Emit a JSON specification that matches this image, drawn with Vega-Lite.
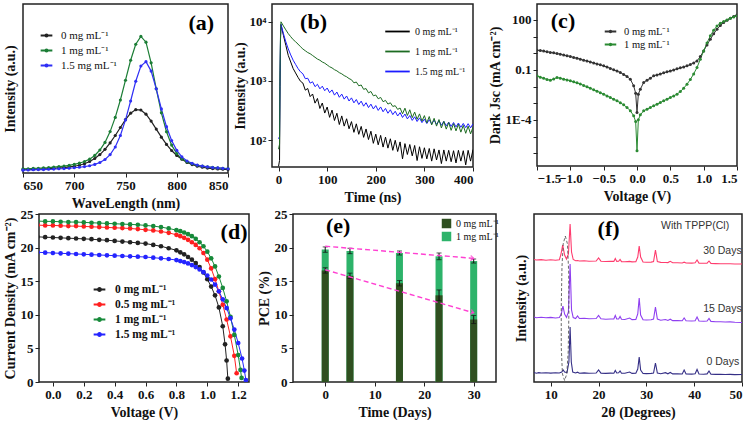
{
"$schema": "https://vega.github.io/schema/vega-lite/v6.json",
"background": "white",
"padding": {"left": 1, "top": 3, "right": 0, "bottom": 0},
"config": {
  "font": "Liberation Serif",
  "view": {"stroke": "#222222", "strokeWidth": 1.5},
  "axis": {"grid": false, "domain": false, "labelOverlap": false, "tickCount": 20, "labelFont": "Liberation Serif", "labelFontWeight": "bold", "labelFontSize": 13, "labelColor": "#111111", "titleFont": "Liberation Serif", "titleFontWeight": "bold", "titleFontSize": 14, "titleColor": "#111111", "tickColor": "#222222", "tickSize": 4, "labelPadding": 2, "titlePadding": 4},
  "legend": {"labelFont": "Liberation Serif", "labelColor": "#111111"}
},
"datasets": {
"a": [
{"s":"0","w":650,"i":0.021},{"s":"0","w":655,"i":0.021},{"s":"0","w":660,"i":0.022},{"s":"0","w":665,"i":0.023},{"s":"0","w":670,"i":0.025},{"s":"0","w":675,"i":0.026},{"s":"0","w":680,"i":0.028},{"s":"0","w":685,"i":0.030},{"s":"0","w":690,"i":0.032},{"s":"0","w":695,"i":0.036},{"s":"0","w":700,"i":0.040},{"s":"0","w":705,"i":0.046},{"s":"0","w":710,"i":0.055},{"s":"0","w":715,"i":0.068},{"s":"0","w":720,"i":0.086},{"s":"0","w":725,"i":0.109},{"s":"0","w":730,"i":0.140},{"s":"0","w":735,"i":0.178},{"s":"0","w":740,"i":0.222},{"s":"0","w":745,"i":0.269},{"s":"0","w":750,"i":0.316},{"s":"0","w":755,"i":0.354},{"s":"0","w":760,"i":0.375},{"s":"0","w":765,"i":0.373},{"s":"0","w":770,"i":0.348},{"s":"0","w":775,"i":0.307},{"s":"0","w":780,"i":0.260},{"s":"0","w":785,"i":0.212},{"s":"0","w":790,"i":0.169},{"s":"0","w":795,"i":0.133},{"s":"0","w":800,"i":0.104},{"s":"0","w":805,"i":0.082},{"s":"0","w":810,"i":0.062},{"s":"0","w":815,"i":0.050},{"s":"0","w":820,"i":0.040},{"s":"0","w":825,"i":0.034},{"s":"0","w":830,"i":0.029},{"s":"0","w":835,"i":0.026},{"s":"0","w":840,"i":0.024},{"s":"0","w":845,"i":0.022},{"s":"0","w":850,"i":0.021},
{"s":"1","w":650,"i":0.024},{"s":"1","w":655,"i":0.025},{"s":"1","w":660,"i":0.027},{"s":"1","w":665,"i":0.028},{"s":"1","w":670,"i":0.030},{"s":"1","w":675,"i":0.032},{"s":"1","w":680,"i":0.035},{"s":"1","w":685,"i":0.038},{"s":"1","w":690,"i":0.041},{"s":"1","w":695,"i":0.045},{"s":"1","w":700,"i":0.051},{"s":"1","w":705,"i":0.058},{"s":"1","w":710,"i":0.068},{"s":"1","w":715,"i":0.082},{"s":"1","w":720,"i":0.104},{"s":"1","w":725,"i":0.136},{"s":"1","w":730,"i":0.181},{"s":"1","w":735,"i":0.245},{"s":"1","w":740,"i":0.329},{"s":"1","w":745,"i":0.432},{"s":"1","w":750,"i":0.549},{"s":"1","w":755,"i":0.667},{"s":"1","w":760,"i":0.762},{"s":"1","w":765,"i":0.808},{"s":"1","w":770,"i":0.774},{"s":"1","w":775,"i":0.652},{"s":"1","w":780,"i":0.498},{"s":"1","w":785,"i":0.356},{"s":"1","w":790,"i":0.244},{"s":"1","w":795,"i":0.165},{"s":"1","w":800,"i":0.115},{"s":"1","w":805,"i":0.084},{"s":"1","w":810,"i":0.066},{"s":"1","w":815,"i":0.054},{"s":"1","w":820,"i":0.046},{"s":"1","w":825,"i":0.041},{"s":"1","w":830,"i":0.036},{"s":"1","w":835,"i":0.033},{"s":"1","w":840,"i":0.030},{"s":"1","w":845,"i":0.028},{"s":"1","w":850,"i":0.026},
{"s":"1.5","w":650,"i":0.017},{"s":"1.5","w":655,"i":0.018},{"s":"1.5","w":660,"i":0.019},{"s":"1.5","w":665,"i":0.020},{"s":"1.5","w":670,"i":0.020},{"s":"1.5","w":675,"i":0.022},{"s":"1.5","w":680,"i":0.023},{"s":"1.5","w":685,"i":0.025},{"s":"1.5","w":690,"i":0.026},{"s":"1.5","w":695,"i":0.028},{"s":"1.5","w":700,"i":0.031},{"s":"1.5","w":705,"i":0.034},{"s":"1.5","w":710,"i":0.038},{"s":"1.5","w":715,"i":0.043},{"s":"1.5","w":720,"i":0.051},{"s":"1.5","w":725,"i":0.062},{"s":"1.5","w":730,"i":0.080},{"s":"1.5","w":735,"i":0.109},{"s":"1.5","w":740,"i":0.154},{"s":"1.5","w":745,"i":0.222},{"s":"1.5","w":750,"i":0.314},{"s":"1.5","w":755,"i":0.426},{"s":"1.5","w":760,"i":0.543},{"s":"1.5","w":765,"i":0.633},{"s":"1.5","w":770,"i":0.659},{"s":"1.5","w":775,"i":0.603},{"s":"1.5","w":780,"i":0.498},{"s":"1.5","w":785,"i":0.379},{"s":"1.5","w":790,"i":0.274},{"s":"1.5","w":795,"i":0.192},{"s":"1.5","w":800,"i":0.134},{"s":"1.5","w":805,"i":0.095},{"s":"1.5","w":810,"i":0.071},{"s":"1.5","w":815,"i":0.057},{"s":"1.5","w":820,"i":0.047},{"s":"1.5","w":825,"i":0.041},{"s":"1.5","w":830,"i":0.036},{"s":"1.5","w":835,"i":0.032},{"s":"1.5","w":840,"i":0.030},{"s":"1.5","w":845,"i":0.027},{"s":"1.5","w":850,"i":0.025}
],
"b": [
{"s":"0","t":0,"v":36},{"s":"0","t":2,"v":45},{"s":"0","t":3,"v":800},{"s":"0","t":4,"v":5000},{"s":"0","t":5,"v":8900},{"s":"0","t":10,"v":5890},{"s":"0","t":15,"v":3980},{"s":"0","t":20,"v":2690},{"s":"0","t":25,"v":2090},{"s":"0","t":30,"v":1620},{"s":"0","t":35,"v":1365},{"s":"0","t":40,"v":1150},{"s":"0","t":45,"v":989},{"s":"0","t":50,"v":920},{"s":"0","t":55,"v":698},{"s":"0","t":60,"v":744},{"s":"0","t":65,"v":543},{"s":"0","t":70,"v":601},{"s":"0","t":75,"v":421},{"s":"0","t":80,"v":505},{"s":"0","t":85,"v":342},{"s":"0","t":90,"v":423},{"s":"0","t":95,"v":286},{"s":"0","t":100,"v":362},{"s":"0","t":105,"v":242},{"s":"0","t":110,"v":321},{"s":"0","t":115,"v":214},{"s":"0","t":120,"v":284},{"s":"0","t":125,"v":183},{"s":"0","t":130,"v":256},{"s":"0","t":135,"v":172},{"s":"0","t":140,"v":229},{"s":"0","t":145,"v":155},{"s":"0","t":150,"v":205},{"s":"0","t":155,"v":135},{"s":"0","t":160,"v":188},{"s":"0","t":165,"v":125},{"s":"0","t":170,"v":170},{"s":"0","t":175,"v":111},{"s":"0","t":180,"v":154},{"s":"0","t":185,"v":102},{"s":"0","t":190,"v":141},{"s":"0","t":195,"v":88},{"s":"0","t":200,"v":126},{"s":"0","t":205,"v":83},{"s":"0","t":210,"v":120},{"s":"0","t":215,"v":76},{"s":"0","t":220,"v":112},{"s":"0","t":225,"v":73},{"s":"0","t":230,"v":105},{"s":"0","t":235,"v":67},{"s":"0","t":240,"v":99},{"s":"0","t":245,"v":64},{"s":"0","t":250,"v":93},{"s":"0","t":255,"v":48},{"s":"0","t":260,"v":87},{"s":"0","t":265,"v":57},{"s":"0","t":270,"v":84},{"s":"0","t":275,"v":54},{"s":"0","t":280,"v":81},{"s":"0","t":285,"v":45},{"s":"0","t":290,"v":77},{"s":"0","t":295,"v":49},{"s":"0","t":300,"v":74},{"s":"0","t":305,"v":48},{"s":"0","t":310,"v":72},{"s":"0","t":315,"v":44},{"s":"0","t":320,"v":71},{"s":"0","t":325,"v":46},{"s":"0","t":330,"v":68},{"s":"0","t":335,"v":40},{"s":"0","t":340,"v":68},{"s":"0","t":345,"v":44},{"s":"0","t":350,"v":67},{"s":"0","t":355,"v":43},{"s":"0","t":360,"v":66},{"s":"0","t":365,"v":41},{"s":"0","t":370,"v":67},{"s":"0","t":375,"v":44},{"s":"0","t":380,"v":66},{"s":"0","t":385,"v":38},{"s":"0","t":390,"v":67},{"s":"0","t":395,"v":44},{"s":"0","t":400,"v":69},
{"s":"1.5","t":0,"v":105},{"s":"1.5","t":2,"v":115},{"s":"1.5","t":3,"v":1200},{"s":"1.5","t":4,"v":5500},{"s":"1.5","t":5,"v":9100},{"s":"1.5","t":10,"v":6310},{"s":"1.5","t":15,"v":4571},{"s":"1.5","t":20,"v":3467},{"s":"1.5","t":25,"v":2754},{"s":"1.5","t":30,"v":2239},{"s":"1.5","t":35,"v":1905},{"s":"1.5","t":40,"v":1622},{"s":"1.5","t":45,"v":1429},{"s":"1.5","t":50,"v":1320},{"s":"1.5","t":55,"v":1090},{"s":"1.5","t":60,"v":1110},{"s":"1.5","t":65,"v":918},{"s":"1.5","t":70,"v":967},{"s":"1.5","t":75,"v":800},{"s":"1.5","t":80,"v":877},{"s":"1.5","t":85,"v":735},{"s":"1.5","t":90,"v":815},{"s":"1.5","t":95,"v":683},{"s":"1.5","t":100,"v":758},{"s":"1.5","t":105,"v":632},{"s":"1.5","t":110,"v":704},{"s":"1.5","t":115,"v":575},{"s":"1.5","t":120,"v":648},{"s":"1.5","t":125,"v":529},{"s":"1.5","t":130,"v":599},{"s":"1.5","t":135,"v":492},{"s":"1.5","t":140,"v":556},{"s":"1.5","t":145,"v":457},{"s":"1.5","t":150,"v":517},{"s":"1.5","t":155,"v":426},{"s":"1.5","t":160,"v":485},{"s":"1.5","t":165,"v":399},{"s":"1.5","t":170,"v":455},{"s":"1.5","t":175,"v":374},{"s":"1.5","t":180,"v":428},{"s":"1.5","t":185,"v":354},{"s":"1.5","t":190,"v":405},{"s":"1.5","t":195,"v":336},{"s":"1.5","t":200,"v":383},{"s":"1.5","t":205,"v":317},{"s":"1.5","t":210,"v":363},{"s":"1.5","t":215,"v":301},{"s":"1.5","t":220,"v":343},{"s":"1.5","t":225,"v":284},{"s":"1.5","t":230,"v":325},{"s":"1.5","t":235,"v":269},{"s":"1.5","t":240,"v":307},{"s":"1.5","t":245,"v":255},{"s":"1.5","t":250,"v":291},{"s":"1.5","t":255,"v":241},{"s":"1.5","t":260,"v":275},{"s":"1.5","t":265,"v":228},{"s":"1.5","t":270,"v":260},{"s":"1.5","t":275,"v":215},{"s":"1.5","t":280,"v":247},{"s":"1.5","t":285,"v":206},{"s":"1.5","t":290,"v":237},{"s":"1.5","t":295,"v":197},{"s":"1.5","t":300,"v":226},{"s":"1.5","t":305,"v":190},{"s":"1.5","t":310,"v":221},{"s":"1.5","t":315,"v":187},{"s":"1.5","t":320,"v":217},{"s":"1.5","t":325,"v":184},{"s":"1.5","t":330,"v":213},{"s":"1.5","t":335,"v":178},{"s":"1.5","t":340,"v":207},{"s":"1.5","t":345,"v":174},{"s":"1.5","t":350,"v":201},{"s":"1.5","t":355,"v":170},{"s":"1.5","t":360,"v":198},{"s":"1.5","t":365,"v":167},{"s":"1.5","t":370,"v":194},{"s":"1.5","t":375,"v":164},{"s":"1.5","t":380,"v":191},{"s":"1.5","t":385,"v":162},{"s":"1.5","t":390,"v":189},{"s":"1.5","t":395,"v":161},{"s":"1.5","t":400,"v":188},
{"s":"1","t":0,"v":70},{"s":"1","t":2,"v":85},{"s":"1","t":3,"v":1500},{"s":"1","t":4,"v":6000},{"s":"1","t":5,"v":10000},{"s":"1","t":10,"v":8500},{"s":"1","t":15,"v":7300},{"s":"1","t":20,"v":6300},{"s":"1","t":25,"v":5600},{"s":"1","t":30,"v":5000},{"s":"1","t":35,"v":4600},{"s":"1","t":40,"v":4200},{"s":"1","t":45,"v":3800},{"s":"1","t":50,"v":3467},{"s":"1","t":55,"v":3236},{"s":"1","t":60,"v":3020},{"s":"1","t":65,"v":2884},{"s":"1","t":70,"v":2692},{"s":"1","t":75,"v":2512},{"s":"1","t":80,"v":2344},{"s":"1","t":85,"v":2239},{"s":"1","t":90,"v":2089},{"s":"1","t":95,"v":1995},{"s":"1","t":100,"v":1862},{"s":"1","t":105,"v":1738},{"s":"1","t":110,"v":1660},{"s":"1","t":115,"v":1549},{"s":"1","t":120,"v":1479},{"s":"1","t":125,"v":1380},{"s":"1","t":130,"v":1318},{"s":"1","t":135,"v":1230},{"s":"1","t":140,"v":1175},{"s":"1","t":145,"v":1096},{"s":"1","t":150,"v":1047},{"s":"1","t":155,"v":928},{"s":"1","t":160,"v":958},{"s":"1","t":165,"v":827},{"s":"1","t":170,"v":854},{"s":"1","t":175,"v":721},{"s":"1","t":180,"v":743},{"s":"1","t":185,"v":628},{"s":"1","t":190,"v":663},{"s":"1","t":195,"v":560},{"s":"1","t":200,"v":578},{"s":"1","t":205,"v":499},{"s":"1","t":210,"v":526},{"s":"1","t":215,"v":445},{"s":"1","t":220,"v":469},{"s":"1","t":225,"v":406},{"s":"1","t":230,"v":427},{"s":"1","t":235,"v":370},{"s":"1","t":240,"v":381},{"s":"1","t":245,"v":330},{"s":"1","t":250,"v":348},{"s":"1","t":255,"v":278},{"s":"1","t":260,"v":346},{"s":"1","t":265,"v":260},{"s":"1","t":270,"v":325},{"s":"1","t":275,"v":239},{"s":"1","t":280,"v":297},{"s":"1","t":285,"v":224},{"s":"1","t":290,"v":277},{"s":"1","t":295,"v":209},{"s":"1","t":300,"v":259},{"s":"1","t":305,"v":195},{"s":"1","t":310,"v":250},{"s":"1","t":315,"v":180},{"s":"1","t":320,"v":233},{"s":"1","t":325,"v":172},{"s":"1","t":330,"v":222},{"s":"1","t":335,"v":160},{"s":"1","t":340,"v":207},{"s":"1","t":345,"v":153},{"s":"1","t":350,"v":198},{"s":"1","t":355,"v":146},{"s":"1","t":360,"v":189},{"s":"1","t":365,"v":143},{"s":"1","t":370,"v":185},{"s":"1","t":375,"v":136},{"s":"1","t":380,"v":177},{"s":"1","t":385,"v":130},{"s":"1","t":390,"v":172},{"s":"1","t":395,"v":127},{"s":"1","t":400,"v":165}
],
"c": [
{"s":"0","v":-1.5,"j":1.51},{"s":"0","v":-1.45,"j":1.45},{"s":"0","v":-1.4,"j":1.35},{"s":"0","v":-1.35,"j":1.23},{"s":"0","v":-1.3,"j":1.12},{"s":"0","v":-1.25,"j":1.05},{"s":"0","v":-1.2,"j":0.955},{"s":"0","v":-1.15,"j":0.871},{"s":"0","v":-1.1,"j":0.776},{"s":"0","v":-1.05,"j":0.708},{"s":"0","v":-1.0,"j":0.631},{"s":"0","v":-0.95,"j":0.562},{"s":"0","v":-0.9,"j":0.501},{"s":"0","v":-0.85,"j":0.437},{"s":"0","v":-0.8,"j":0.38},{"s":"0","v":-0.75,"j":0.339},{"s":"0","v":-0.7,"j":0.295},{"s":"0","v":-0.65,"j":0.263},{"s":"0","v":-0.6,"j":0.229},{"s":"0","v":-0.55,"j":0.2},{"s":"0","v":-0.5,"j":0.174},{"s":"0","v":-0.45,"j":0.148},{"s":"0","v":-0.4,"j":0.123},{"s":"0","v":-0.35,"j":0.102},{"s":"0","v":-0.3,"j":0.0851},{"s":"0","v":-0.25,"j":0.0692},{"s":"0","v":-0.2,"j":0.0537},{"s":"0","v":-0.15,"j":0.0398},{"s":"0","v":-0.1,"j":0.0275},{"s":"0","v":-0.05,"j":0.011},{"s":"0","v":-0.02,"j":0.00398},{"s":"0","v":0,"j":0.000275},{"s":"0","v":0.02,"j":0.00347},{"s":"0","v":0.05,"j":0.00692},{"s":"0","v":0.1,"j":0.0174},{"s":"0","v":0.15,"j":0.024},{"s":"0","v":0.2,"j":0.0316},{"s":"0","v":0.25,"j":0.0437},{"s":"0","v":0.3,"j":0.0501},{"s":"0","v":0.35,"j":0.0575},{"s":"0","v":0.4,"j":0.0661},{"s":"0","v":0.45,"j":0.0759},{"s":"0","v":0.5,"j":0.0871},{"s":"0","v":0.55,"j":0.1},{"s":"0","v":0.6,"j":0.115},{"s":"0","v":0.65,"j":0.132},{"s":"0","v":0.7,"j":0.151},{"s":"0","v":0.75,"j":0.174},{"s":"0","v":0.8,"j":0.209},{"s":"0","v":0.85,"j":0.263},{"s":"0","v":0.9,"j":0.347},{"s":"0","v":0.95,"j":0.631},{"s":"0","v":1.0,"j":1.38},{"s":"0","v":1.05,"j":3.16},{"s":"0","v":1.1,"j":6.92},{"s":"0","v":1.15,"j":14.5},{"s":"0","v":1.2,"j":27.5},{"s":"0","v":1.25,"j":45.7},{"s":"0","v":1.3,"j":69.2},{"s":"0","v":1.35,"j":95.5},{"s":"0","v":1.4,"j":126},{"s":"0","v":1.45,"j":162},{"s":"0","v":1.5,"j":200},
{"s":"1","v":-1.5,"j":0.0437},{"s":"1","v":-1.45,"j":0.0355},{"s":"1","v":-1.4,"j":0.0316},{"s":"1","v":-1.35,"j":0.0263},{"s":"1","v":-1.3,"j":0.024},{"s":"1","v":-1.25,"j":0.0282},{"s":"1","v":-1.2,"j":0.0347},{"s":"1","v":-1.15,"j":0.0316},{"s":"1","v":-1.1,"j":0.0275},{"s":"1","v":-1.05,"j":0.0251},{"s":"1","v":-1.0,"j":0.0219},{"s":"1","v":-0.95,"j":0.0191},{"s":"1","v":-0.9,"j":0.0166},{"s":"1","v":-0.85,"j":0.0141},{"s":"1","v":-0.8,"j":0.0117},{"s":"1","v":-0.75,"j":0.00955},{"s":"1","v":-0.7,"j":0.00794},{"s":"1","v":-0.65,"j":0.00631},{"s":"1","v":-0.6,"j":0.00525},{"s":"1","v":-0.55,"j":0.00427},{"s":"1","v":-0.5,"j":0.00347},{"s":"1","v":-0.45,"j":0.00275},{"s":"1","v":-0.4,"j":0.00219},{"s":"1","v":-0.35,"j":0.00174},{"s":"1","v":-0.3,"j":0.00138},{"s":"1","v":-0.25,"j":0.00105},{"s":"1","v":-0.2,"j":0.000794},{"s":"1","v":-0.15,"j":0.00055},{"s":"1","v":-0.1,"j":0.000355},{"s":"1","v":-0.05,"j":0.000174},{"s":"1","v":-0.02,"j":0.0000794},{"s":"1","v":0,"j":0.00000138},{"s":"1","v":0.02,"j":0.0001},{"s":"1","v":0.05,"j":0.0002},{"s":"1","v":0.1,"j":0.000347},{"s":"1","v":0.15,"j":0.000437},{"s":"1","v":0.2,"j":0.00055},{"s":"1","v":0.25,"j":0.000692},{"s":"1","v":0.3,"j":0.000871},{"s":"1","v":0.35,"j":0.0011},{"s":"1","v":0.4,"j":0.00138},{"s":"1","v":0.45,"j":0.00174},{"s":"1","v":0.5,"j":0.00219},{"s":"1","v":0.55,"j":0.00275},{"s":"1","v":0.6,"j":0.00347},{"s":"1","v":0.65,"j":0.00501},{"s":"1","v":0.7,"j":0.00794},{"s":"1","v":0.75,"j":0.0138},{"s":"1","v":0.8,"j":0.0263},{"s":"1","v":0.85,"j":0.0575},{"s":"1","v":0.9,"j":0.138},{"s":"1","v":0.95,"j":0.437},{"s":"1","v":1.0,"j":1.38},{"s":"1","v":1.05,"j":4.17},{"s":"1","v":1.1,"j":11},{"s":"1","v":1.15,"j":24},{"s":"1","v":1.2,"j":43.7},{"s":"1","v":1.25,"j":63.1},{"s":"1","v":1.3,"j":79.4},{"s":"1","v":1.35,"j":100},{"s":"1","v":1.4,"j":126},{"s":"1","v":1.45,"j":148},{"s":"1","v":1.5,"j":174}
],
"d": [
{"s":"0","v":-0.1,"j":21.6},{"s":"0","v":-0.05,"j":21.55},{"s":"0","v":0,"j":21.5},{"s":"0","v":0.05,"j":21.45},{"s":"0","v":0.1,"j":21.4},{"s":"0","v":0.15,"j":21.35},{"s":"0","v":0.2,"j":21.3},{"s":"0","v":0.25,"j":21.25},{"s":"0","v":0.3,"j":21.15},{"s":"0","v":0.35,"j":21.1},{"s":"0","v":0.4,"j":21.0},{"s":"0","v":0.45,"j":20.9},{"s":"0","v":0.5,"j":20.8},{"s":"0","v":0.55,"j":20.7},{"s":"0","v":0.6,"j":20.6},{"s":"0","v":0.65,"j":20.4},{"s":"0","v":0.7,"j":20.2},{"s":"0","v":0.75,"j":19.9},{"s":"0","v":0.8,"j":19.6},{"s":"0","v":0.825,"j":19.3},{"s":"0","v":0.85,"j":19.0},{"s":"0","v":0.875,"j":18.6},{"s":"0","v":0.9,"j":18.2},{"s":"0","v":0.925,"j":17.7},{"s":"0","v":0.95,"j":17.1},{"s":"0","v":0.975,"j":16.3},{"s":"0","v":1.0,"j":15.3},{"s":"0","v":1.025,"j":14.2},{"s":"0","v":1.05,"j":12.9},{"s":"0","v":1.075,"j":11.1},{"s":"0","v":1.1,"j":8.3},{"s":"0","v":1.115,"j":5.6},{"s":"0","v":1.125,"j":3.2},{"s":"0","v":1.133,"j":0.5},
{"s":"0.5","v":-0.1,"j":23.35},{"s":"0.5","v":-0.05,"j":23.3},{"s":"0.5","v":0,"j":23.3},{"s":"0.5","v":0.05,"j":23.25},{"s":"0.5","v":0.1,"j":23.2},{"s":"0.5","v":0.15,"j":23.2},{"s":"0.5","v":0.2,"j":23.15},{"s":"0.5","v":0.25,"j":23.1},{"s":"0.5","v":0.3,"j":23.05},{"s":"0.5","v":0.35,"j":23.0},{"s":"0.5","v":0.4,"j":22.95},{"s":"0.5","v":0.45,"j":22.9},{"s":"0.5","v":0.5,"j":22.85},{"s":"0.5","v":0.55,"j":22.75},{"s":"0.5","v":0.6,"j":22.65},{"s":"0.5","v":0.65,"j":22.55},{"s":"0.5","v":0.7,"j":22.4},{"s":"0.5","v":0.75,"j":22.2},{"s":"0.5","v":0.8,"j":21.9},{"s":"0.5","v":0.825,"j":21.7},{"s":"0.5","v":0.85,"j":21.45},{"s":"0.5","v":0.875,"j":21.15},{"s":"0.5","v":0.9,"j":20.8},{"s":"0.5","v":0.925,"j":20.4},{"s":"0.5","v":0.95,"j":19.9},{"s":"0.5","v":0.975,"j":19.2},{"s":"0.5","v":1.0,"j":18.2},{"s":"0.5","v":1.025,"j":16.9},{"s":"0.5","v":1.05,"j":15.3},{"s":"0.5","v":1.075,"j":13.5},{"s":"0.5","v":1.1,"j":11.5},{"s":"0.5","v":1.125,"j":9.3},{"s":"0.5","v":1.15,"j":6.8},{"s":"0.5","v":1.175,"j":3.9},{"s":"0.5","v":1.19,"j":1.3},
{"s":"1","v":-0.1,"j":23.95},{"s":"1","v":-0.05,"j":23.9},{"s":"1","v":0,"j":23.9},{"s":"1","v":0.05,"j":23.85},{"s":"1","v":0.1,"j":23.8},{"s":"1","v":0.15,"j":23.8},{"s":"1","v":0.2,"j":23.75},{"s":"1","v":0.25,"j":23.7},{"s":"1","v":0.3,"j":23.65},{"s":"1","v":0.35,"j":23.6},{"s":"1","v":0.4,"j":23.55},{"s":"1","v":0.45,"j":23.5},{"s":"1","v":0.5,"j":23.45},{"s":"1","v":0.55,"j":23.4},{"s":"1","v":0.6,"j":23.3},{"s":"1","v":0.65,"j":23.2},{"s":"1","v":0.7,"j":23.05},{"s":"1","v":0.75,"j":22.85},{"s":"1","v":0.8,"j":22.6},{"s":"1","v":0.825,"j":22.45},{"s":"1","v":0.85,"j":22.25},{"s":"1","v":0.875,"j":22.0},{"s":"1","v":0.9,"j":21.7},{"s":"1","v":0.925,"j":21.3},{"s":"1","v":0.95,"j":20.8},{"s":"1","v":0.975,"j":20.2},{"s":"1","v":1.0,"j":19.4},{"s":"1","v":1.025,"j":18.4},{"s":"1","v":1.05,"j":17.2},{"s":"1","v":1.075,"j":15.7},{"s":"1","v":1.1,"j":14.0},{"s":"1","v":1.125,"j":12.0},{"s":"1","v":1.15,"j":9.7},{"s":"1","v":1.175,"j":7.0},{"s":"1","v":1.2,"j":4.0},{"s":"1","v":1.215,"j":1.8},{"s":"1","v":1.222,"j":0.6},
{"s":"1.5","v":-0.1,"j":19.3},{"s":"1.5","v":-0.05,"j":19.25},{"s":"1.5","v":0,"j":19.2},{"s":"1.5","v":0.05,"j":19.15},{"s":"1.5","v":0.1,"j":19.1},{"s":"1.5","v":0.15,"j":19.05},{"s":"1.5","v":0.2,"j":19.0},{"s":"1.5","v":0.25,"j":18.95},{"s":"1.5","v":0.3,"j":18.9},{"s":"1.5","v":0.35,"j":18.85},{"s":"1.5","v":0.4,"j":18.8},{"s":"1.5","v":0.45,"j":18.75},{"s":"1.5","v":0.5,"j":18.7},{"s":"1.5","v":0.55,"j":18.65},{"s":"1.5","v":0.6,"j":18.6},{"s":"1.5","v":0.65,"j":18.5},{"s":"1.5","v":0.7,"j":18.4},{"s":"1.5","v":0.75,"j":18.3},{"s":"1.5","v":0.8,"j":18.15},{"s":"1.5","v":0.825,"j":18.0},{"s":"1.5","v":0.85,"j":17.85},{"s":"1.5","v":0.875,"j":17.65},{"s":"1.5","v":0.9,"j":17.4},{"s":"1.5","v":0.925,"j":17.1},{"s":"1.5","v":0.95,"j":16.75},{"s":"1.5","v":0.975,"j":16.35},{"s":"1.5","v":1.0,"j":15.85},{"s":"1.5","v":1.025,"j":15.25},{"s":"1.5","v":1.05,"j":14.5},{"s":"1.5","v":1.075,"j":13.5},{"s":"1.5","v":1.1,"j":12.3},{"s":"1.5","v":1.125,"j":11.0},{"s":"1.5","v":1.15,"j":9.5},{"s":"1.5","v":1.175,"j":7.8},{"s":"1.5","v":1.2,"j":5.8},{"s":"1.5","v":1.225,"j":3.5},{"s":"1.5","v":1.24,"j":1.7},{"s":"1.5","v":1.25,"j":0.3}
],
"e": [
{"d":0,"s":"1","p":19.7,"lo":19.3,"hi":20.1},{"d":5,"s":"1","p":19.5,"lo":19.1,"hi":19.9},{"d":15,"s":"1","p":19.2,"lo":18.9,"hi":19.5},{"d":23,"s":"1","p":18.7,"lo":18.2,"hi":19.2},{"d":30,"s":"1","p":18.0,"lo":17.7,"hi":18.3},
{"d":0,"s":"0","p":16.6,"lo":16.2,"hi":17.0},{"d":5,"s":"0","p":15.8,"lo":15.4,"hi":16.2},{"d":15,"s":"0","p":14.7,"lo":14.3,"hi":15.1},{"d":23,"s":"0","p":12.9,"lo":12.1,"hi":13.7},{"d":30,"s":"0","p":9.3,"lo":8.7,"hi":9.9}
],
"el": [
{"g":"a","d":0,"p":20.2},{"g":"a","d":30,"p":18.4},{"g":"b","d":0,"p":16.7},{"g":"b","d":30,"p":10.3}
],
"f": [
{"s":"0","x":6.5,"y":9.5},{"s":"0","x":7,"y":8.8},{"s":"0","x":7.5,"y":9.4},{"s":"0","x":8,"y":9.0},{"s":"0","x":9,"y":9.3},{"s":"0","x":10,"y":8.9},{"s":"0","x":11,"y":9.2},{"s":"0","x":11.8,"y":9.0},{"s":"0","x":12.3,"y":10},{"s":"0","x":12.6,"y":12},{"s":"0","x":12.9,"y":10},{"s":"0","x":13.4,"y":9.5},{"s":"0","x":13.8,"y":20},{"s":"0","x":14.05,"y":55},{"s":"0","x":14.3,"y":20},{"s":"0","x":14.6,"y":10},{"s":"0","x":15.2,"y":9},{"s":"0","x":15.6,"y":9.8},{"s":"0","x":16,"y":8.8},{"s":"0","x":17,"y":9.1},{"s":"0","x":18,"y":8.7},{"s":"0","x":19.5,"y":9},{"s":"0","x":20,"y":12},{"s":"0","x":20.5,"y":8.9},{"s":"0","x":21.5,"y":8.6},{"s":"0","x":22.5,"y":8.9},{"s":"0","x":23.2,"y":8.8},{"s":"0","x":23.5,"y":11.5},{"s":"0","x":23.8,"y":9},{"s":"0","x":24.2,"y":9.2},{"s":"0","x":24.5,"y":11},{"s":"0","x":24.8,"y":8.8},{"s":"0","x":25.5,"y":8.7},{"s":"0","x":26.5,"y":10},{"s":"0","x":27,"y":8.6},{"s":"0","x":27.8,"y":8.7},{"s":"0","x":28.2,"y":13},{"s":"0","x":28.5,"y":25},{"s":"0","x":28.8,"y":12},{"s":"0","x":29.3,"y":8.5},{"s":"0","x":30,"y":8.4},{"s":"0","x":31,"y":8.6},{"s":"0","x":31.5,"y":9},{"s":"0","x":31.9,"y":19},{"s":"0","x":32.3,"y":9},{"s":"0","x":33,"y":8.2},{"s":"0","x":34,"y":9.3},{"s":"0","x":34.5,"y":8.2},{"s":"0","x":35,"y":9.5},{"s":"0","x":35.5,"y":8.1},{"s":"0","x":36.5,"y":8.3},{"s":"0","x":37.5,"y":8},{"s":"0","x":37.9,"y":12},{"s":"0","x":38.3,"y":8.1},{"s":"0","x":39.5,"y":7.9},{"s":"0","x":40.2,"y":8.2},{"s":"0","x":40.6,"y":12.5},{"s":"0","x":41,"y":8},{"s":"0","x":42,"y":7.8},{"s":"0","x":42.7,"y":8.1},{"s":"0","x":43.1,"y":11},{"s":"0","x":43.5,"y":7.8},{"s":"0","x":44.5,"y":7.6},{"s":"0","x":45.5,"y":7.8},{"s":"0","x":46.5,"y":7.5},{"s":"0","x":47.5,"y":7.6},{"s":"0","x":48.5,"y":7.4},{"s":"0","x":50,"y":7.5},
{"s":"15","x":6.5,"y":65},{"s":"15","x":7,"y":64.3},{"s":"15","x":8,"y":64.8},{"s":"15","x":9,"y":64.2},{"s":"15","x":10,"y":64.6},{"s":"15","x":11,"y":64},{"s":"15","x":11.8,"y":64.5},{"s":"15","x":12.2,"y":68},{"s":"15","x":12.55,"y":76},{"s":"15","x":12.9,"y":68},{"s":"15","x":13.3,"y":64.5},{"s":"15","x":13.7,"y":70},{"s":"15","x":14.05,"y":118},{"s":"15","x":14.35,"y":72},{"s":"15","x":14.7,"y":64.5},{"s":"15","x":15.2,"y":63.5},{"s":"15","x":15.6,"y":66},{"s":"15","x":16,"y":63.5},{"s":"15","x":17,"y":63.8},{"s":"15","x":18,"y":63.2},{"s":"15","x":19.5,"y":63.5},{"s":"15","x":20,"y":66.5},{"s":"15","x":20.5,"y":63.2},{"s":"15","x":21.5,"y":62.8},{"s":"15","x":22.5,"y":63},{"s":"15","x":23.2,"y":63},{"s":"15","x":23.5,"y":66.5},{"s":"15","x":23.8,"y":63},{"s":"15","x":24.2,"y":63},{"s":"15","x":24.5,"y":65.5},{"s":"15","x":24.8,"y":62.8},{"s":"15","x":25.5,"y":62.5},{"s":"15","x":26.5,"y":64},{"s":"15","x":27,"y":62.4},{"s":"15","x":27.8,"y":62.5},{"s":"15","x":28.2,"y":68},{"s":"15","x":28.5,"y":84},{"s":"15","x":28.8,"y":67},{"s":"15","x":29.3,"y":62.3},{"s":"15","x":30,"y":62},{"s":"15","x":31,"y":62.2},{"s":"15","x":31.5,"y":63},{"s":"15","x":31.9,"y":75},{"s":"15","x":32.3,"y":63},{"s":"15","x":33,"y":61.8},{"s":"15","x":34,"y":62.5},{"s":"15","x":34.5,"y":61.5},{"s":"15","x":35,"y":62.8},{"s":"15","x":35.5,"y":61.4},{"s":"15","x":36.5,"y":61.5},{"s":"15","x":37.5,"y":61.2},{"s":"15","x":37.9,"y":64},{"s":"15","x":38.3,"y":61.2},{"s":"15","x":39.5,"y":61},{"s":"15","x":40.2,"y":61.3},{"s":"15","x":40.6,"y":65},{"s":"15","x":41,"y":61},{"s":"15","x":42,"y":60.7},{"s":"15","x":42.7,"y":61},{"s":"15","x":43.1,"y":63.5},{"s":"15","x":43.5,"y":60.6},{"s":"15","x":44.5,"y":60.3},{"s":"15","x":45.5,"y":60.2},{"s":"15","x":46.5,"y":60},{"s":"15","x":47.5,"y":60.1},{"s":"15","x":48.5,"y":59.7},{"s":"15","x":50,"y":59.5},
{"s":"30","x":6.5,"y":122.5},{"s":"30","x":7,"y":122},{"s":"30","x":8,"y":122.4},{"s":"30","x":9,"y":121.8},{"s":"30","x":10,"y":122.2},{"s":"30","x":11,"y":121.7},{"s":"30","x":11.8,"y":122.3},{"s":"30","x":12.1,"y":127},{"s":"30","x":12.5,"y":137},{"s":"30","x":12.9,"y":127},{"s":"30","x":13.3,"y":123},{"s":"30","x":13.7,"y":128},{"s":"30","x":14.05,"y":158},{"s":"30","x":14.35,"y":130},{"s":"30","x":14.7,"y":122.5},{"s":"30","x":15.2,"y":121.3},{"s":"30","x":15.6,"y":121.5},{"s":"30","x":16,"y":121},{"s":"30","x":17,"y":121.2},{"s":"30","x":18,"y":120.8},{"s":"30","x":19.5,"y":121},{"s":"30","x":20,"y":124},{"s":"30","x":20.5,"y":120.8},{"s":"30","x":21.5,"y":120.5},{"s":"30","x":22.5,"y":120.7},{"s":"30","x":23.2,"y":120.6},{"s":"30","x":23.5,"y":123.5},{"s":"30","x":23.8,"y":120.6},{"s":"30","x":24.2,"y":120.7},{"s":"30","x":24.5,"y":122.5},{"s":"30","x":24.8,"y":120.4},{"s":"30","x":25.5,"y":120.3},{"s":"30","x":26.5,"y":120.6},{"s":"30","x":27,"y":120.1},{"s":"30","x":27.8,"y":120.3},{"s":"30","x":28.2,"y":125},{"s":"30","x":28.5,"y":136},{"s":"30","x":28.8,"y":125},{"s":"30","x":29.3,"y":120},{"s":"30","x":30,"y":119.8},{"s":"30","x":31,"y":119.9},{"s":"30","x":31.5,"y":120.5},{"s":"30","x":31.9,"y":132},{"s":"30","x":32.3,"y":120.5},{"s":"30","x":33,"y":119.6},{"s":"30","x":34,"y":119.5},{"s":"30","x":34.5,"y":119.4},{"s":"30","x":35,"y":120.7},{"s":"30","x":35.5,"y":119.3},{"s":"30","x":36.5,"y":119.3},{"s":"30","x":37.5,"y":119},{"s":"30","x":37.9,"y":119.8},{"s":"30","x":38.3,"y":119},{"s":"30","x":39.5,"y":118.9},{"s":"30","x":40.2,"y":119.2},{"s":"30","x":40.6,"y":122},{"s":"30","x":41,"y":118.9},{"s":"30","x":42,"y":118.7},{"s":"30","x":42.7,"y":118.9},{"s":"30","x":43.1,"y":121},{"s":"30","x":43.5,"y":118.6},{"s":"30","x":44.5,"y":118.4},{"s":"30","x":45.5,"y":118.3},{"s":"30","x":46.5,"y":118.2},{"s":"30","x":47.5,"y":118.2},{"s":"30","x":48.5,"y":118},{"s":"30","x":50,"y":118}
],
"fe": [
{"i":0,"x":13.05,"y":146},{"i":1,"x":13.5,"y":138},{"i":2,"x":13.75,"y":110},{"i":3,"x":13.8,"y":70},{"i":4,"x":13.65,"y":30},{"i":5,"x":13.35,"y":8},{"i":6,"x":12.9,"y":1.5},{"i":7,"x":12.45,"y":8},{"i":8,"x":12.2,"y":35},{"i":9,"x":12.2,"y":75},{"i":10,"x":12.35,"y":115},{"i":11,"x":12.6,"y":138},{"i":12,"x":13.05,"y":146}
],
"ft": [
{"x":40.2,"y":156,"t":"With TPPP(Cl)"},{"x":45.9,"y":131,"t":"30 Days"},{"x":45.9,"y":73,"t":"15 Days"},{"x":46,"y":20,"t":"0 Days"}
]
},
"vconcat": [
{
 "hconcat": [
  {"width": 1, "height": 1, "data": {"values": []}, "mark": "point", "view": {"stroke": null}},
  {
   "hconcat": [
    {
     "width": 205, "height": 169,
     "layer": [
      {"data": {"name": "a"},
       "mark": {"type": "line", "strokeWidth": 1.2, "point": {"filled": true, "size": 10}},
       "encoding": {
        "x": {"field": "w", "type": "quantitative", "scale": {"domain": [650, 850], "nice": false, "zero": false}, "axis": {"values": [650, 700, 750, 800, 850], "tickCount": 20, "labelOverlap": false, "title": "WaveLength (nm)"}},
        "y": {"field": "i", "type": "quantitative", "scale": {"domain": [0, 1], "nice": false}, "axis": {"title": "Intensity (a.u.)", "labels": false, "ticks": false, "titlePadding": 6}},
        "color": {"field": "s", "type": "nominal", "scale": {"domain": ["0", "1", "1.5"], "range": ["#222222", "#1b7d35", "#2f2ff5"]},
          "legend": {"title": null, "orient": "none", "legendX": 14, "legendY": 22, "labelFontSize": 11, "labelExpr": "datum.label + ' mg mL⁻¹'", "rowPadding": 0, "symbolSize": 289, "symbolType": "M -0.6 -0.04 L 0.6 -0.04 L 0.6 0.04 L -0.6 0.04 Z M 0.15 0 A 0.15 0.15 0 1 1 -0.15 0 A 0.15 0.15 0 1 1 0.15 0 Z", "labelOffset": 5}}
       }},
      {"data": {"values": [{}]}, "mark": {"type": "text", "text": "(a)", "fontSize": 22, "fontWeight": "bold", "font": "Liberation Serif"},
       "encoding": {"x": {"datum": 824}, "y": {"datum": 0.89}}}
     ]
    },
    {
     "hconcat": [
      {
       "width": 201, "height": 163,
       "layer": [
        {"data": {"name": "b"},
         "mark": {"type": "line", "strokeWidth": 1, "clip": true},
         "encoding": {
          "x": {"field": "t", "type": "quantitative", "scale": {"domain": [-13.5, 400], "nice": false, "zero": false}, "axis": {"values": [0, 100, 200, 300, 400], "tickCount": 20, "labelOverlap": false, "title": "Time (ns)"}},
          "y": {"field": "v", "type": "quantitative", "scale": {"type": "log", "domain": [35, 20000], "nice": false}, "axis": {"values": [100, 1000, 10000], "tickCount": 20, "labelOverlap": false, "labelExpr": "datum.value >= 9000 ? '10⁴' : datum.value >= 900 ? '10³' : '10²'", "title": "Intensity (a.u.)", "titlePadding": 2}},
          "color": {"field": "s", "type": "nominal", "scale": {"domain": ["0", "1", "1.5"], "range": ["#000000", "#1d6b22", "#1c1cff"]},
            "legend": {"title": null, "orient": "none", "legendX": 112, "legendY": 14, "labelFontSize": 10, "symbolType": "stroke", "symbolSize": 600, "symbolStrokeWidth": 1.8, "rowPadding": 1, "labelExpr": "datum.label + ' mg mL⁻¹'"}}
         }},
        {"data": {"values": [{}]}, "mark": {"type": "text", "text": "(b)", "fontSize": 22, "fontWeight": "bold", "font": "Liberation Serif"},
         "encoding": {"x": {"datum": 72}, "y": {"datum": 9800}}}
       ]
      },
      {
       "width": 200, "height": 162,
       "layer": [
        {"data": {"name": "c"},
         "mark": {"type": "line", "strokeWidth": 1, "clip": true, "point": {"filled": true, "size": 9}},
         "encoding": {
          "x": {"field": "v", "type": "quantitative", "scale": {"domain": [-1.5, 1.5], "nice": false, "zero": false}, "axis": {"values": [-1.5, -1, -0.5, 0, 0.5, 1, 1.5], "tickCount": 20, "format": ".1f", "labelOverlap": false, "title": "Voltage (V)"}},
          "y": {"field": "j", "type": "quantitative", "scale": {"type": "log", "domain": [1.7e-7, 900], "nice": false}, "axis": {"values": [0.000001, 0.00001, 0.0001, 0.001, 0.01, 0.1, 1, 10, 100], "tickCount": 20, "labelOverlap": false, "labelExpr": "datum.value > 50 ? '100' : (datum.value > 0.05 && datum.value < 0.2) ? '0.1' : (datum.value > 0.00005 && datum.value < 0.0002) ? '1E-4' : ''", "title": "Dark Jsc (mA cm⁻²)", "titlePadding": 3}},
          "color": {"field": "s", "type": "nominal", "scale": {"domain": ["0", "1"], "range": ["#333333", "#2a8a32"]},
            "legend": {"title": null, "orient": "none", "legendX": 66, "legendY": 20, "labelFontSize": 10.5, "labelExpr": "datum.label + ' mg mL⁻¹'", "rowPadding": 0, "symbolSize": 169, "symbolType": "M -0.77 -0.05 L 0.77 -0.05 L 0.77 0.05 L -0.77 0.05 Z M 0.16 0 A 0.16 0.16 0 1 1 -0.16 0 A 0.16 0.16 0 1 1 0.16 0 Z", "labelOffset": 6}}
         }},
        {"data": {"values": [{}]}, "mark": {"type": "text", "text": "(c)", "fontSize": 22, "fontWeight": "bold", "font": "Liberation Serif"},
         "encoding": {"x": {"datum": -1.11}, "y": {"datum": 87}}}
       ]
      }
     ],
     "spacing": 64, "bounds": "flush",
     "resolve": {"scale": {"color": "independent"}, "legend": {"color": "independent"}}
    }
   ],
   "spacing": 0,
   "resolve": {"scale": {"color": "independent"}, "legend": {"color": "independent"}}
  }
 ],
 "spacing": 0,
 "resolve": {"scale": {"color": "independent"}, "legend": {"color": "independent"}}
},
{
 "hconcat": [
  {"width": 1, "height": 1, "data": {"values": []}, "mark": "point", "view": {"stroke": null}},
  {
   "hconcat": [
    {
     "width": 210, "height": 168,
     "layer": [
      {"data": {"name": "d"},
       "mark": {"type": "line", "strokeWidth": 1, "clip": true, "point": {"filled": true, "size": 22}},
       "encoding": {
        "x": {"field": "v", "type": "quantitative", "scale": {"domain": [-0.09, 1.27], "nice": false, "zero": false}, "axis": {"values": [0, 0.2, 0.4, 0.6, 0.8, 1.0, 1.2], "tickCount": 20, "format": ".1f", "labelOverlap": false, "title": "Voltage (V)"}},
        "y": {"field": "j", "type": "quantitative", "scale": {"domain": [0, 25], "nice": false}, "axis": {"values": [0, 5, 10, 15, 20, 25], "tickCount": 20, "labelOverlap": false, "title": "Current Density (mA cm⁻²)", "titlePadding": 3}},
        "color": {"field": "s", "type": "nominal", "scale": {"domain": ["0", "0.5", "1", "1.5"], "range": ["#222222", "#ff1f1f", "#178a3a", "#2424ff"]},
          "legend": {"title": null, "orient": "none", "legendX": 51, "legendY": 66, "labelFontSize": 11.5, "labelFontWeight": "bold", "labelExpr": "datum.label + ' mg mL⁻¹'", "rowPadding": 0, "symbolSize": 289, "symbolType": "M -0.6 -0.04 L 0.6 -0.04 L 0.6 0.04 L -0.6 0.04 Z M 0.2 0 A 0.2 0.2 0 1 1 -0.2 0 A 0.2 0.2 0 1 1 0.2 0 Z", "labelOffset": 6}}
       }},
      {"data": {"values": [{}]}, "mark": {"type": "text", "text": "(d)", "fontSize": 22, "fontWeight": "bold", "font": "Liberation Serif"},
       "encoding": {"x": {"datum": 1.173}, "y": {"datum": 22.3}}}
     ]
    },
    {
     "hconcat": [
      {
       "width": 203, "height": 168,
       "layer": [
        {"data": {"name": "e"},
         "mark": {"type": "bar", "width": 7},
         "encoding": {
          "x": {"field": "d", "type": "quantitative", "scale": {"domain": [-5.5, 33.5], "nice": false, "zero": false}, "axis": {"values": [0, 10, 20, 30], "tickCount": 20, "labelOverlap": false, "title": "Time (Days)"}},
          "y": {"field": "p", "type": "quantitative", "stack": null, "scale": {"domain": [0, 25], "nice": false}, "axis": {"values": [0, 5, 10, 15, 20, 25], "tickCount": 20, "labelOverlap": false, "title": "PCE (%)", "titlePadding": 3}},
          "color": {"field": "s", "type": "nominal", "scale": {"domain": ["0", "1"], "range": ["#2f5020", "#2db36a"]},
            "legend": {"title": null, "orient": "none", "legendX": 148, "legendY": 4, "labelFontSize": 10, "symbolType": "square", "symbolSize": 90, "rowPadding": 2, "labelExpr": "datum.label + ' mg mL⁻¹'"}}
         }},
        {"data": {"name": "e"}, "mark": {"type": "rule", "color": "#111111", "strokeWidth": 1},
         "encoding": {"x": {"field": "d", "type": "quantitative"}, "y": {"field": "lo", "type": "quantitative"}, "y2": {"field": "hi"}}},
        {"data": {"name": "e"}, "mark": {"type": "tick", "color": "#111111", "orient": "horizontal", "size": 5, "thickness": 1},
         "encoding": {"x": {"field": "d", "type": "quantitative"}, "y": {"field": "lo", "type": "quantitative"}}},
        {"data": {"name": "e"}, "mark": {"type": "tick", "color": "#111111", "orient": "horizontal", "size": 5, "thickness": 1},
         "encoding": {"x": {"field": "d", "type": "quantitative"}, "y": {"field": "hi", "type": "quantitative"}}},
        {"data": {"name": "el"}, "mark": {"type": "line", "color": "#ff40d2", "strokeWidth": 1.4, "strokeDash": [5, 3]},
         "encoding": {"x": {"field": "d", "type": "quantitative"}, "y": {"field": "p", "type": "quantitative"}, "detail": {"field": "g"}}},
        {"data": {"values": [{}]}, "mark": {"type": "point", "shape": "M -1 -0.8 L 0 0 L -1 0.8", "filled": false, "color": "#ff40d2", "strokeWidth": 1.4, "size": 40, "angle": 4},
         "encoding": {"x": {"datum": 30}, "y": {"datum": 18.4}}},
        {"data": {"values": [{}]}, "mark": {"type": "point", "shape": "M -1 -0.8 L 0 0 L -1 0.8", "filled": false, "color": "#ff40d2", "strokeWidth": 1.4, "size": 40, "angle": 15},
         "encoding": {"x": {"datum": 30}, "y": {"datum": 10.3}}},
        {"data": {"values": [{}]}, "mark": {"type": "text", "text": "(e)", "fontSize": 22, "fontWeight": "bold", "font": "Liberation Serif"},
         "encoding": {"x": {"datum": 2.6}, "y": {"datum": 23.2}}}
       ]
      },
      {
       "width": 208, "height": 168,
       "layer": [
        {"data": {"name": "f"},
         "mark": {"type": "line", "strokeWidth": 1.1},
         "encoding": {
          "x": {"field": "x", "type": "quantitative", "scale": {"domain": [6.5, 50], "nice": false, "zero": false}, "axis": {"values": [10, 20, 30, 40, 50], "tickCount": 20, "labelOverlap": false, "title": "2θ (Degrees)"}},
          "y": {"field": "y", "type": "quantitative", "scale": {"domain": [0, 168], "nice": false}, "axis": {"title": "Intensity (a.u.)", "labels": false, "ticks": false, "titlePadding": 6}},
          "color": {"field": "s", "type": "nominal", "scale": {"domain": ["0", "15", "30"], "range": ["#352f86", "#8f3ff0", "#ff3c6e"]}, "legend": null}
         }},
        {"data": {"name": "fe"}, "mark": {"type": "line", "color": "#444444", "strokeWidth": 0.8, "strokeDash": [3, 2]},
         "encoding": {"x": {"field": "x", "type": "quantitative"}, "y": {"field": "y", "type": "quantitative"}, "order": {"field": "i"}}},
        {"data": {"name": "ft"}, "mark": {"type": "text", "font": "Liberation Sans", "fontSize": 10.5, "color": "#333333"},
         "encoding": {"x": {"field": "x", "type": "quantitative"}, "y": {"field": "y", "type": "quantitative"}, "text": {"field": "t"}}},
        {"data": {"values": [{}]}, "mark": {"type": "text", "text": "(f)", "fontSize": 22, "fontWeight": "bold", "font": "Liberation Serif"},
         "encoding": {"x": {"datum": 22.1}, "y": {"datum": 153}}}
       ]
      }
     ],
     "spacing": 38, "bounds": "flush",
     "resolve": {"scale": {"color": "independent"}, "legend": {"color": "independent"}}
    }
   ],
   "spacing": 6,
   "resolve": {"scale": {"color": "independent"}, "legend": {"color": "independent"}}
  }
 ],
 "spacing": 0,
 "resolve": {"scale": {"color": "independent"}, "legend": {"color": "independent"}}
}
],
"spacing": -4, "align": "none",
"resolve": {"scale": {"color": "independent"}, "legend": {"color": "independent"}}
}
